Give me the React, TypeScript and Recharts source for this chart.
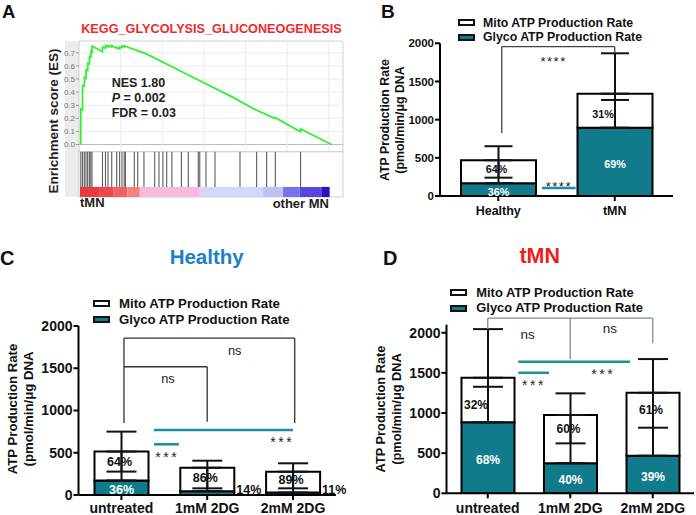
import React from 'react';
import { ComposedChart, Bar, Line, XAxis, YAxis, ErrorBar, LabelList, ReferenceLine, ReferenceArea, ReferenceDot } from 'recharts';

const FONT = '"Liberation Sans", Arial, Helvetica, sans-serif';
const TEAL = '#117b8b';
const SIG_TEAL = '#1b8ea2';
const INK = '#111';

// ---- A: GSEA running enrichment score (rank in thousands) ----
const esRank = [0.2, 0.22, 0.42, 0.43, 0.64, 0.65, 0.84, 0.85, 1.04, 1.05, 1.25, 1.26, 1.42, 1.43, 1.56, 1.57, 2.82, 2.83, 3.18, 3.19, 3.48, 3.49, 3.93, 3.94, 4.53, 4.54, 4.88, 4.89, 5.16, 5.17, 5.43, 5.44, 5.57, 6.84, 8.16, 14.5, 18.5, 20.9, 23.5, 23.57, 26.6, 26.61, 30.3];
const esScore = [0, 0.27, 0.265, 0.45, 0.445, 0.51, 0.505, 0.57, 0.565, 0.62, 0.615, 0.67, 0.665, 0.71, 0.705, 0.75, 0.71, 0.745, 0.735, 0.755, 0.745, 0.755, 0.745, 0.755, 0.735, 0.74, 0.73, 0.745, 0.74, 0.75, 0.745, 0.755, 0.75, 0.72, 0.69, 0.487, 0.36, 0.275, 0.2, 0.205, 0.097, 0.12, 0];
const hitRanks = [0.22, 0.42, 0.64, 0.84, 1.04, 1.25, 1.42, 1.56, 2.82, 3.18, 3.48, 3.93, 4.53, 4.88, 5.16, 5.43, 5.57, 6.64, 7.05, 7.8, 9.09, 9.6, 10.08, 10.53, 11.16, 12.3, 13.12, 14.32, 14.5, 15.25, 16.33, 19.33, 21.33, 22.53, 23.57, 26.6];
const rankBarEdges = [0.12, 2.5, 4.1, 5.8, 7.3, 14.5, 22.1, 24.5, 26.5, 29.1, 30.1];
const rankBarColors = ['#e63b3f', '#ea4a4e', '#ee6266', '#f28283', '#f7b9de', '#d6d5fb', '#c4bff3', '#7773ec', '#5647df', '#2c10c4'];
const esTicks = [0, 0.1, 0.2, 0.3, 0.4, 0.5, 0.6, 0.7];
const rankGrid = [5, 10, 15, 20, 25, 30];

// ---- B: Healthy vs tMN ----
const bCategories = ['Healthy', 'tMN'];
const bGlyco = [168, 895];
const bMito = [300, 445];
const bGlycoSd = [72, 363];
const bMitoSd = [184, 529];
const bGlycoPct = ['36%', '69%'];
const bMitoPct = ['64%', '31%'];

// ---- C: Healthy + 2DG ----
const treatments = ['untreated', '1mM 2DG', '2mM 2DG'];
const cGlyco = [172, 45, 30];
const cMito = [343, 278, 246];
const cGlycoSd = [105, 34, 49];
const cMitoSd = [235, 83, 99];
const cGlycoPct = ['36%', '14%', '11%'];
const cMitoPct = ['64%', '86%', '89%'];

// ---- D: tMN + 2DG ----
const dGlyco = [884, 375, 468];
const dMito = [555, 600, 784];
const dGlycoSd = [443, 247, 349];
const dMitoSd = [606, 270, 420];
const dGlycoPct = ['68%', '40%', '39%'];
const dMitoPct = ['32%', '60%', '61%'];

const rateTicks = [0, 500, 1000, 1500, 2000];

// significance marks: x in category index units, y in pmol/min/μg DNA
const bBrackets = [[[0.03, 826], [0.03, 1956], [1, 1956], [1, 1869]]];
const bSigBars = [[0.375, 0.664, 105]];
const bMarks: [number, number, string][] = [[0.475, 1808, '****'], [0.52, 166, '****']];

const cBrackets = [[[0.03, 852], [0.03, 1857], [2.02, 1857], [2.02, 852]], [[0.03, 1518], [1, 1518], [1, 867]]];
const cSigBars = [[0.38, 2.0, 769], [0.38, 0.67, 600]];
const cMarks: [number, number, string][] = [[1.32, 1715, 'ns'], [0.543, 1384, 'ns'], [0.534, 493, '***'], [1.874, 671, '***']];

const dBrackets = [[[0, 2045], [0, 2183], [2, 2183], [2, 1868]], [[1, 2183], [1, 1672]]];
const dSigBars = [[0.37, 1.724, 1638], [0.37, 0.742, 1501]];
const dMarks: [number, number, string][] = [[0.484, 1983, 'ns'], [1.48, 2054, 'ns'], [0.56, 1401, '***'], [1.4, 1535, '***']];

function Txt({ x, y, size, anchor = 'start', color = INK, weight = 'bold', rotate = false, lh = 1.2, children }: any) {
  const tx = anchor === 'middle' || rotate ? '-50%' : anchor === 'end' ? '-100%' : '0';
  return (
    <div
      style={{
        position: 'absolute', left: x, top: y, fontSize: size, lineHeight: lh, fontWeight: weight,
        color, whiteSpace: 'nowrap', fontFamily: FONT,
        transform: `translate(${tx}, -50%)${rotate ? ' rotate(-90deg)' : ''}`,
      }}
    >
      {children}
    </div>
  );
}

function RateLegend({ boxX, textX, y, gap, size }: any) {
  const rows = [
    { label: 'Mito ATP Production Rate', fill: '#fff' },
    { label: 'Glyco ATP Production Rate', fill: TEAL },
  ];
  return (
    <>
      {rows.map((r, i) => (
        <React.Fragment key={r.label}>
          <div style={{ position: 'absolute', left: boxX, top: y + i * gap - 3.5, width: 17, height: 7, boxSizing: 'border-box', border: '2px solid #111', background: r.fill }} />
          <Txt x={textX} y={y + i * gap} size={size}>{r.label}</Txt>
        </React.Fragment>
      ))}
    </>
  );
}

function PanelA() {
  const data = esRank.map((rank, i) => ({ rank, es: esScore[i] }));
  const xMax = 31.7, yMin = -0.4, yTop = 0.79, hitTop = -0.055, hitBottom = -0.323;
  return (
    <>
      <div style={{ position: 'absolute', left: 65, top: 41, width: 14, height: 156, background: '#ececec' }} />
      <div style={{ position: 'absolute', left: 0, top: 0 }}>
        <ComposedChart width={348} height={215} data={data} margin={{ top: 41, right: 5, bottom: 18, left: 0 }}>
          <XAxis dataKey="rank" type="number" domain={[0, xMax]} hide allowDataOverflow />
          <YAxis type="number" domain={[yMin, yTop]} ticks={esTicks} interval={0} width={79} allowDataOverflow axisLine={false}
            tickLine={{ stroke: '#999' }} tickSize={3} tickMargin={1}
            tick={{ fill: '#777', fontSize: 8, fontFamily: FONT }} tickFormatter={(v: number) => v.toFixed(1)} />
          <ReferenceArea x1={0} x2={xMax} y1={yMin} y2={yTop} fill="#fff" fillOpacity={1} stroke="#d0d0d0" />
          {esTicks.map((t) => (
            <ReferenceLine key={'h' + t} segment={[{ x: 0, y: t }, { x: xMax, y: t }]} stroke={t === 0 ? '#b8b8b8' : '#ececec'} />
          ))}
          {rankGrid.map((g) => (
            <ReferenceLine key={'v' + g} segment={[{ x: g, y: hitTop }, { x: g, y: yTop }]} stroke="#ececec" />
          ))}
          <ReferenceLine segment={[{ x: 0, y: hitTop }, { x: xMax, y: hitTop }]} stroke="#c4c4c4" />
          {hitRanks.map((h, i) => (
            <ReferenceLine key={'hit' + i} segment={[{ x: h, y: hitTop }, { x: h, y: hitBottom }]} stroke="#5c5c5c" strokeWidth={1.1} />
          ))}
          {rankBarColors.map((col, i) => (
            <ReferenceArea key={'rb' + i} x1={rankBarEdges[i]} x2={rankBarEdges[i + 1]} y1={yMin} y2={hitBottom} fill={col} fillOpacity={1} stroke="none" />
          ))}
          <Line type="linear" dataKey="es" stroke="#35ee35" strokeWidth={1.8} dot={false} isAnimationActive={false} />
        </ComposedChart>
      </div>
      <Txt x={2} y={11.7} size={18.5} lh={1}>A</Txt>
      <Txt x={211.5} y={30} size={12.7} anchor="middle" color="#f0282a">KEGG_GLYCOLYSIS_GLUCONEOGENESIS</Txt>
      <Txt x={54} y={121} size={13.5} rotate color="#222">Enrichment score (ES)</Txt>
      <Txt x={111.7} y={83.3} size={12.5} color="#222">NES 1.80</Txt>
      <Txt x={111.7} y={97.9} size={12.5} color="#222"><i>P</i> = 0.002</Txt>
      <Txt x={111.7} y={113.3} size={12.5} color="#222">FDR = 0.03</Txt>
      <Txt x={80} y={203} size={13} color="#222">tMN</Txt>
      <Txt x={329} y={204} size={13} anchor="end" color="#222">other MN</Txt>
    </>
  );
}

type PanelCfg = {
  box: number[]; plot: number[]; yMax: number;
  categories: string[]; glyco: number[]; mito: number[]; glycoSd: number[]; mitoSd: number[];
  glycoPct: string[]; mitoPct: string[];
  brackets: number[][][]; sigBars: number[][]; marks: [number, number, string][];
  barSize: number; capHalf: number; tickFont: number; catFont: number; catMargin: number; pctFont: number;
  bracketColor: string; nsFont: number; starFont: number; starSpacing: number;
};

function BarPanel({ c }: { c: PanelCfg }) {
  const [L, T, W, H] = c.box;
  const [pl, pt, pr, pb] = c.plot;
  const n = c.categories.length;
  const data = c.categories.map((name, i) => ({
    idx: i,
    name,
    glyco: c.glyco[i],
    mito: c.mito[i],
    mErr: [c.mito[i], c.mitoSd[i]],
    capErr: [c.mito[i] - c.glycoSd[i], 0],
  }));
  const segs = c.brackets.flatMap((b) => b.slice(1).map((p, j) => [b[j], p]));

  const mitoLabel = (p: any) => {
    const h = Math.abs(p.height);
    const top = Math.min(p.y, p.y + p.height);
    const bottom = top + h;
    const cap = bottom - c.glycoSd[p.index] * (h / c.mito[p.index]);
    const upper = cap - top >= bottom - cap;
    const ly = upper ? (top + cap) / 2 : (cap + bottom) / 2;
    const lx = p.x + p.width / 2 + (upper ? -2 : -12);
    return (
      <text x={lx} y={ly} textAnchor="middle" dominantBaseline="central" fontSize={c.pctFont} fontWeight="bold" fontFamily={FONT} fill={INK}>
        {c.mitoPct[p.index]}
      </text>
    );
  };
  const glycoLabel = (p: any) => {
    const h = Math.abs(p.height);
    const top = Math.min(p.y, p.y + p.height);
    if (h >= 11) {
      return (
        <text x={p.x + p.width / 2} y={top + h / 2 + 2} textAnchor="middle" dominantBaseline="central" fontSize={c.pctFont} fontWeight="bold" fontFamily={FONT} fill="#fff">
          {c.glycoPct[p.index]}
        </text>
      );
    }
    return (
      <text x={p.x + p.width + 2} y={top + h - 1} textAnchor="start" fontSize={c.pctFont} fontWeight="bold" fontFamily={FONT} fill={INK}>
        {c.glycoPct[p.index]}
      </text>
    );
  };
  const markLabel = (text: string) => (p: any) => {
    const vb = p.viewBox || {};
    const cx = vb.x + (vb.width || 0) / 2;
    const cy = vb.y + (vb.height || 0) / 2;
    const star = text.startsWith('*');
    return (
      <text x={cx} y={cy + (star ? c.starFont * 0.28 : 0)} textAnchor="middle" dominantBaseline="central"
        fontSize={star ? c.starFont : c.nsFont} letterSpacing={star ? c.starSpacing : 0} fontFamily={FONT} fill="#222">
        {text}
      </text>
    );
  };

  return (
    <div style={{ position: 'absolute', left: L, top: T }}>
      <ComposedChart width={W} height={H} data={data} margin={{ top: pt - T, right: L + W - pr, bottom: 0, left: 0 }}>
        <XAxis dataKey="idx" type="number" domain={[-0.5, n - 0.5]} allowDataOverflow
          ticks={data.map((d) => d.idx)} interval={0} tickFormatter={(i: number) => c.categories[i] ?? ''}
          height={T + H - pb} axisLine={{ stroke: '#000', strokeWidth: 2 }}
          tickLine={{ stroke: '#000', strokeWidth: 2 }} tickSize={5} tickMargin={c.catMargin}
          tick={{ fill: INK, fontSize: c.catFont, fontWeight: 'bold', fontFamily: FONT }} />
        <YAxis type="number" domain={[0, c.yMax]} ticks={rateTicks} interval={0} width={pl - L} allowDataOverflow
          axisLine={{ stroke: '#000', strokeWidth: 2 }} tickLine={{ stroke: '#000', strokeWidth: 2 }}
          tickSize={5} tickMargin={1} tick={{ fill: INK, fontSize: c.tickFont, fontWeight: 'bold', fontFamily: FONT }} />
        <Bar dataKey="glyco" stackId="s" fill={TEAL} stroke="#000" strokeWidth={2} barSize={c.barSize} isAnimationActive={false}>
          <LabelList dataKey="glyco" content={glycoLabel} />
        </Bar>
        <Bar dataKey="mito" stackId="s" fill="#fff" stroke="#000" strokeWidth={2} barSize={c.barSize} isAnimationActive={false}>
          <ErrorBar dataKey="mErr" width={c.capHalf} stroke="#111" strokeWidth={2} />
          <ErrorBar dataKey="capErr" width={c.capHalf} stroke="#111" strokeWidth={2} />
          <LabelList dataKey="mito" content={mitoLabel} />
        </Bar>
        {segs.map((s, i) => (
          <ReferenceLine key={'br' + i} ifOverflow="visible"
            segment={[{ x: s[0][0], y: s[0][1] }, { x: s[1][0], y: s[1][1] }]} stroke={c.bracketColor} strokeWidth={1.3} />
        ))}
        {c.sigBars.map((s, i) => (
          <ReferenceLine key={'sig' + i} ifOverflow="visible"
            segment={[{ x: s[0], y: s[2] }, { x: s[1], y: s[2] }]} stroke={SIG_TEAL} strokeWidth={2.5} />
        ))}
        {c.marks.map((m, i) => (
          <ReferenceDot key={'mk' + i} x={m[0]} y={m[1]} r={1} fill="none" stroke="none" ifOverflow="visible" label={markLabel(m[2])} />
        ))}
      </ComposedChart>
    </div>
  );
}

const panelB: PanelCfg = {
  box: [380, 0, 316, 225], plot: [440, 43.3, 673, 196], yMax: 2000,
  categories: bCategories, glyco: bGlyco, mito: bMito, glycoSd: bGlycoSd, mitoSd: bMitoSd,
  glycoPct: bGlycoPct, mitoPct: bMitoPct, brackets: bBrackets, sigBars: bSigBars, marks: bMarks,
  barSize: 75, capHalf: 14, tickFont: 11.5, catFont: 12.5, catMargin: 5, pctFont: 10.8,
  bracketColor: '#444', nsFont: 12.5, starFont: 13, starSpacing: 1.5,
};

const panelC: PanelCfg = {
  box: [0, 280, 348, 235], plot: [78.5, 326, 335.9, 495], yMax: 2000,
  categories: treatments, glyco: cGlyco, mito: cMito, glycoSd: cGlycoSd, mitoSd: cMitoSd,
  glycoPct: cGlycoPct, mitoPct: cMitoPct, brackets: cBrackets, sigBars: cSigBars, marks: cMarks,
  barSize: 54, capHalf: 15, tickFont: 14, catFont: 14, catMargin: 3.5, pctFont: 12.5,
  bracketColor: '#333', nsFont: 12.8, starFont: 14, starSpacing: 2.5,
};

const panelD: PanelCfg = {
  box: [348, 280, 348, 235], plot: [446.5, 324.7, 694, 493.3], yMax: 2100,
  categories: treatments, glyco: dGlyco, mito: dMito, glycoSd: dGlycoSd, mitoSd: dMitoSd,
  glycoPct: dGlycoPct, mitoPct: dMitoPct, brackets: dBrackets, sigBars: dSigBars, marks: dMarks,
  barSize: 53, capHalf: 15, tickFont: 14, catFont: 14, catMargin: 5, pctFont: 12,
  bracketColor: '#8a8a8a', nsFont: 13.5, starFont: 14, starSpacing: 2.5,
};

export default function App() {
  return (
    <div style={{ position: 'absolute', left: 0, top: 0, width: 696, height: 515, background: '#fff', overflow: 'hidden', fontFamily: FONT }}>
      <PanelA />

      <BarPanel c={panelB} />
      <Txt x={381} y={10.5} size={19} lh={1}>B</Txt>
      <RateLegend boxX={458} textX={483} y={22.7} gap={14.6} size={12.3} />
      <Txt x={384.7} y={120} size={12.3} rotate>ATP Production Rate</Txt>
      <Txt x={400} y={120} size={12.3} rotate>(pmol/min/μg DNA</Txt>

      <BarPanel c={panelC} />
      <Txt x={0} y={258} size={20} lh={1}>C</Txt>
      <Txt x={206.7} y={256.7} size={20.5} anchor="middle" color="#1b80cc">Healthy</Txt>
      <RateLegend boxX={93} textX={119} y={303.5} gap={16.3} size={13.2} />
      <Txt x={13.3} y={409} size={13.2} rotate>ATP Production Rate</Txt>
      <Txt x={29} y={409} size={13.2} rotate>(pmol/min/μg DNA</Txt>

      <BarPanel c={panelD} />
      <Txt x={383} y={258} size={20} lh={1}>D</Txt>
      <Txt x={539.7} y={256.7} size={21.5} anchor="middle" color="#f21d1d">tMN</Txt>
      <RateLegend boxX={450} textX={476.3} y={292.5} gap={15.9} size={12.9} />
      <Txt x={381.3} y={409} size={12.8} rotate>ATP Production Rate</Txt>
      <Txt x={397.3} y={409} size={12.8} rotate>(pmol/min/μg DNA</Txt>
    </div>
  );
}
